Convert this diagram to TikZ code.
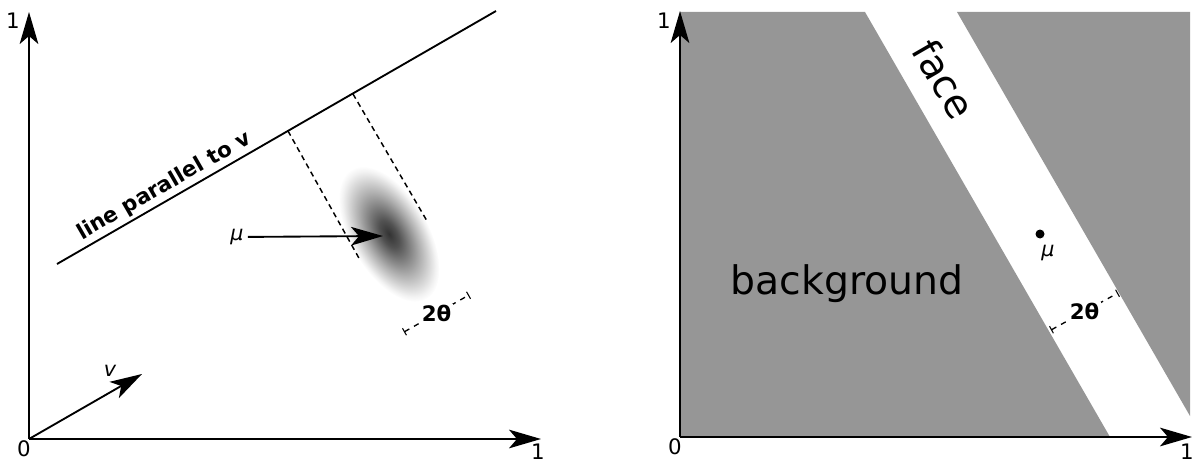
\documentclass[tikz,border=0pt]{standalone}
\usepackage{fontspec}
\setmainfont{DejaVu Sans}
\usetikzlibrary{arrows.meta}
\definecolor{bggray}{RGB}{150,150,150}
\pgfdeclareradialshading{gaussblob}{\pgfpoint{0bp}{0bp}}{color(0bp)=(black!80); color(5bp)=(black!68); color(10bp)=(black!50); color(15bp)=(black!32); color(20bp)=(black!15); color(23bp)=(black!5); color(25bp)=(white); color(50bp)=(white)}
\tikzset{
  bigarrow/.style={line width=1.4pt, -{Stealth[length=24pt, width=14pt, inset=6pt]}},
  dashline/.style={line width=1.1pt, dash pattern=on 4pt off 3pt},
  dimline/.style={line width=1pt, dash pattern=on 4pt off 4pt, {Bar[width=6pt,line width=0.8pt]}-{Bar[width=6pt,line width=0.8pt]}},
  axlabel/.style={font=\fontsize{16}{18}\selectfont, inner sep=0pt},
  mathlabel/.style={font=\fontsize{15.5}{18}\selectfont\itshape, inner sep=1pt},
  boldlabel/.style={font=\fontsize{16}{18}\selectfont\bfseries, inner sep=1pt, fill=white},
  biglabel/.style={font=\fontsize{29.5}{34}\selectfont, inner sep=0pt}
}
\begin{document}
\begin{tikzpicture}[x=0.75pt, y=-0.75pt]
\useasboundingbox (0,0) rectangle (1193,460);
% ---------- left panel ----------
\coordinate (O1) at (29,439);
\coordinate (Y1) at (29,12);
\coordinate (X1) at (541,439);
\coordinate (V) at (142,374);
\coordinate (L1) at (57,264);
\coordinate (L2) at (496,11);
\coordinate (P1) at (288,131);
\coordinate (P1e) at (360,260);
\coordinate (P2) at (353,94);
\coordinate (P2e) at (427,221);
\coordinate (tipmu) at (383,236);
\coordinate (D1) at (404,332);
\coordinate (D2) at (469,295);
% gaussian blob
\begin{scope}[transform canvas={shift={(389,234)}, rotate=-60}]
  \shade[shading=gaussblob] (0,0) ellipse [x radius=75, y radius=39];
\end{scope}
\draw[bigarrow] (O1) -- (Y1);
\draw[bigarrow] (O1) -- (X1);
\node[axlabel] (one1y) at (13,21) {1};
\node[axlabel] (one1x) at (538,452) {1};
\node[axlabel] (zero1) at (24,449) {0};
\draw[bigarrow] (O1) -- (V);
\node[mathlabel] (vlab) at (110,371) {v};
\draw[line width=1.4pt] (L1) -- (L2)
  node[pos=0.26, sloped, above=1pt, font=\fontsize{16}{18}\selectfont\bfseries, inner sep=1pt] (linelab) {line parallel to v};
\draw[dashline] (P1) -- (P1e);
\draw[dashline] (P2) -- (P2e);
\node[mathlabel] (mu1) at (237,237) {μ};
\draw[bigarrow, shorten <=2pt] (mu1) -- (tipmu);
\draw[dimline] (D1) -- (D2) node[midway, boldlabel] (th1) {2θ};
% ---------- right panel ----------
\coordinate (O2) at (680,437);
\coordinate (Y2) at (680,11);
\coordinate (X2) at (1192,437);
\fill[bggray] (680,12) -- (865,12) -- (1110,437) -- (680,437) -- cycle;
\fill[bggray] (957,12) -- (1190,12) -- (1190,416) -- cycle;
\draw[bigarrow] (O2) -- (Y2);
\draw[bigarrow] (O2) -- (X2);
\node[axlabel] (one2y) at (664,21) {1};
\node[axlabel] (one2x) at (1187,452) {1};
\node[axlabel] (zero2) at (675,447) {0};
\node[biglabel, rotate=-60] (face) at (944,79) {face};
\node[biglabel] (bg) at (847,284) {background};
\fill (1040,234) circle [radius=4.5] coordinate (dot);
\node[mathlabel] (mu2) at (1048,253) {μ};
\coordinate (D3) at (1051,330);
\coordinate (D4) at (1118,293);
\draw[dimline] (D3) -- (D4) node[midway, boldlabel] (th2) {2θ};
\end{tikzpicture}
\end{document}
